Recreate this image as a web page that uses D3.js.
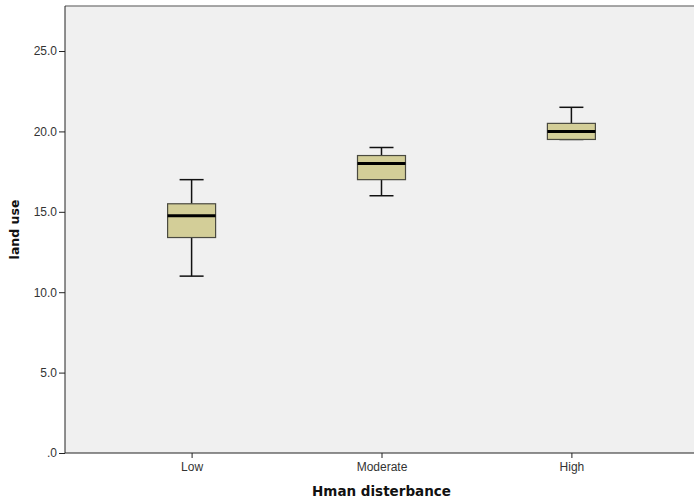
<!DOCTYPE html>
<html>
<head>
<meta charset="utf-8">
<script src="https://cdn.jsdelivr.net/npm/d3@7"></script>
<style>
  body { margin: 0; background: #fff; }
  svg { display: block; }
</style>
</head>
<body>
<svg id="chart" width="694" height="500"></svg>
<script>
// Disturbance groups and their box-plot summaries (land use)
const categories = ["Low", "Moderate", "High"];
const whiskerLow = [11.0, 16.0, 19.5];
const q1 = [13.4, 17.0, 19.5];
const median = [14.75, 18.0, 20.0];
const q3 = [15.5, 18.5, 20.5];
const whiskerHigh = [17.0, 19.0, 21.5];
const yTicks = [0, 5, 10, 15, 20, 25];

const svg = d3.select("#chart");
// the plot frame runs past the right edge of the page
const plotLeft = 65, plotTop = 6, plotBottom = 453, plotRight = 698;

const y = d3.scaleLinear().domain([0, 27.8]).range([plotBottom, plotTop]);
const x = d3.scalePoint().domain(categories).range([plotLeft, plotRight]).padding(2 / 3);

// plot background
svg.append("rect")
  .attr("x", plotLeft).attr("y", plotTop)
  .attr("width", plotRight - plotLeft).attr("height", plotBottom - plotTop)
  .attr("fill", "#f0f0f0");

// frame top edge
svg.append("line")
  .attr("x1", plotLeft).attr("x2", plotRight)
  .attr("y1", plotTop).attr("y2", plotTop)
  .attr("stroke", "#8a8a8a").attr("stroke-width", 1.5);

const tickFont = "'Liberation Sans', Arial, sans-serif";
const titleFont = "'DejaVu Sans', Verdana, sans-serif";

// y axis
const yAxis = svg.append("g")
  .attr("transform", `translate(${plotLeft},0)`)
  .call(d3.axisLeft(y).tickValues(yTicks).tickSize(6).tickSizeOuter(0)
    .tickFormat(d => d === 0 ? ".0" : d3.format(".1f")(d)));
yAxis.select(".domain").remove();
yAxis.selectAll(".tick line").attr("stroke", "#222");
yAxis.selectAll(".tick text")
  .attr("fill", "#333").attr("font-family", tickFont).attr("font-size", 12).attr("x", -8);
svg.append("line")
  .attr("x1", plotLeft).attr("x2", plotLeft).attr("y1", plotTop).attr("y2", plotBottom)
  .attr("stroke", "#222").attr("stroke-width", 1);

// x axis
const xAxis = svg.append("g")
  .attr("transform", `translate(0,${plotBottom})`)
  .call(d3.axisBottom(x).tickSize(5).tickSizeOuter(0));
xAxis.select(".domain").remove();
xAxis.selectAll(".tick line").attr("stroke", "#222");
xAxis.selectAll(".tick text")
  .attr("fill", "#333").attr("font-family", tickFont).attr("font-size", 12)
  .attr("y", 18).attr("dy", 0);
svg.append("line")
  .attr("x1", plotLeft).attr("x2", plotRight).attr("y1", plotBottom).attr("y2", plotBottom)
  .attr("stroke", "#222").attr("stroke-width", 1.2);

// boxes
const boxW = 48, capW = 24;
const g = svg.append("g");
categories.forEach((c, i) => {
  const cx = x(c);
  // whisker stems
  g.append("line").attr("x1", cx).attr("x2", cx)
    .attr("y1", y(whiskerHigh[i])).attr("y2", y(q3[i]))
    .attr("stroke", "#111").attr("stroke-width", 1.5);
  g.append("line").attr("x1", cx).attr("x2", cx)
    .attr("y1", y(q1[i])).attr("y2", y(whiskerLow[i]))
    .attr("stroke", "#111").attr("stroke-width", 1.5);
  // caps
  [whiskerHigh[i], whiskerLow[i]].forEach(v => {
    g.append("line").attr("x1", cx - capW / 2).attr("x2", cx + capW / 2)
      .attr("y1", y(v)).attr("y2", y(v))
      .attr("stroke", "#111").attr("stroke-width", 1.5);
  });
  // box
  g.append("rect")
    .attr("x", cx - boxW / 2).attr("y", y(q3[i]))
    .attr("width", boxW).attr("height", y(q1[i]) - y(q3[i]))
    .attr("fill", "#d3ce98").attr("stroke", "#4a4a40").attr("stroke-width", 1.2);
  // median
  g.append("line").attr("x1", cx - boxW / 2).attr("x2", cx + boxW / 2)
    .attr("y1", y(median[i])).attr("y2", y(median[i]))
    .attr("stroke", "#000").attr("stroke-width", 3);
});

// axis titles
svg.append("text")
  .attr("transform", `translate(18.5,${(plotTop + plotBottom) / 2}) rotate(-90)`)
  .attr("text-anchor", "middle")
  .attr("font-family", titleFont).attr("font-weight", "bold").attr("font-size", 12.5)
  .attr("fill", "#111")
  .text("land use");
svg.append("text")
  .attr("x", x("Moderate")).attr("y", 496)
  .attr("text-anchor", "middle")
  .attr("font-family", titleFont).attr("font-weight", "bold").attr("font-size", 13.5)
  .attr("fill", "#111")
  .text("Hman disterbance");
</script>
</body>
</html>
